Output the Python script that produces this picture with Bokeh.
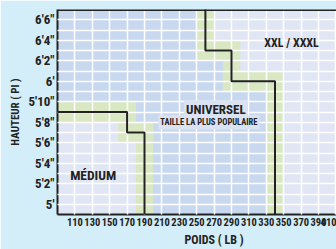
from bokeh.plotting import figure
from bokeh.models import Range1d, Label, Span, Title
from bokeh.embed import file_html
from bokeh.resources import INLINE

# ---------------- data ----------------
weight_ticks = [110, 130, 150, 170, 190, 210, 230, 250, 270, 290, 310, 330, 350, 370, 390, 410]
height_ticks = [60, 62, 64, 66, 68, 70, 72, 74, 76, 78]
height_labels = ["5'", "5'2\"", "5'4\"", "5'6\"", "5'8\"", "5'10\"", "6'", "6'2\"", "6'4\"", "6'6\""]
height_grid = [60, 61, 62, 63, 64, 65, 66, 67, 68, 69, 70, 71, 72, 73, 74, 75, 76, 77, 78]

# size boundaries (weight lb, height inches)
medium_w = [90, 170, 170, 190, 190]
medium_h = [69, 69, 67, 67, 59]
xxl_w = [260, 260, 290, 290, 340, 340]
xxl_h = [79, 75, 75, 72, 72, 59]

region_labels = ["MÉDIUM", "UNIVERSEL", "TAILLE LA PLUS POPULAIRE", "XXL / XXXL"]
x_title = "POIDS ( LB )"
y_title = "HAUTEUR ( PI )"

X0, X1 = 90, 410.7
Y0, Y1 = 59, 79

FONT = "Roboto Condensed, Roboto, sans-serif"
BG = "#d3edf9"
BLUE = "#c8d8ef"
LAV = "#e0e6f4"
GREEN = "#d9e8c3"
INK = "#222222"

p = figure(width=336, height=249, output_backend="svg", toolbar_location=None,
           x_range=Range1d(X0, X1), y_range=Range1d(Y0, Y1),
           min_border_left=57, min_border_right=0, min_border_top=9, min_border_bottom=29)
p.background_fill_color = BLUE
p.border_fill_color = BG
p.outline_line_color = None

# regions
p.patch(medium_w + [X0], medium_h + [Y0], fill_color=LAV, line_color=None)
p.patch(xxl_w + [450, 450], xxl_h + [Y0, Y1], fill_color=LAV, line_color=None)

# overlap bands around boundaries
def bands(ws, hs, dw=10, dh=1):
    L, R, B, T = [], [], [], []
    for i in range(len(ws) - 1):
        a, b = sorted((ws[i], ws[i + 1]))
        c, d = sorted((hs[i], hs[i + 1]))
        L.append(a - dw); R.append(b + dw); B.append(c - dh); T.append(d + dh)
    return L, R, B, T

for ws, hs in ((medium_w, medium_h), (xxl_w, xxl_h)):
    L, R, B, T = bands(ws, hs)
    p.quad(left=L, right=R, bottom=B, top=T, fill_color=GREEN, line_color=None)

# grid
p.xgrid.ticker = weight_ticks
p.ygrid.ticker = height_grid
p.grid.grid_line_color = "white"
p.grid.grid_line_width = 1.5
p.grid.level = "guide"

# boundary lines
r1 = p.line(medium_w, medium_h, line_color=INK, line_width=2)
r2 = p.line(xxl_w, xxl_h, line_color=INK, line_width=2)
r1.level = "annotation"
r2.level = "annotation"

p.add_layout(Span(location=Y1, dimension="width", line_color=INK, line_width=3))

# axes
for ax in (p.xaxis, p.yaxis):
    ax.major_tick_line_color = None
    ax.minor_tick_line_color = None
    ax.axis_line_color = INK
    ax.axis_line_width = 2
    ax.major_label_text_font = FONT
    ax.major_label_text_font_style = "bold"
    ax.major_label_text_color = INK
    ax.major_tick_out = 0
    ax.major_tick_in = 0

p.xaxis.ticker = weight_ticks
p.xaxis.major_label_text_font_size = "10.5px"
p.xaxis.major_label_standoff = 3
p.yaxis.ticker = height_ticks
p.yaxis.major_label_overrides = {t: s for t, s in zip(height_ticks, height_labels)}
p.yaxis.major_label_text_font_size = "13px"
p.yaxis.major_label_standoff = 3
p.yaxis.axis_label = y_title
p.yaxis.axis_label_text_font = FONT
p.yaxis.axis_label_text_font_style = "bold"
p.yaxis.axis_label_text_font_size = "11px"
p.yaxis.axis_label_text_color = INK
p.yaxis.axis_label_standoff = 4

p.add_layout(Title(text=x_title, align="left", offset=127, standoff=5,
                   text_font=FONT, text_font_style="bold", text_font_size="12px",
                   text_color=INK), "below")

def lab(x, y, text, size, bg=None):
    kw = dict(x=x, y=y, text=text, text_font=FONT, text_font_size=size,
              text_font_style="bold", text_color=INK, text_align="center",
              text_baseline="middle")
    if bg:
        kw.update(background_fill_color=bg, padding=2)
    p.add_layout(Label(**kw))

lab(131, 62.9, region_labels[0], "13.5px")
lab(272, 69.2, region_labels[1], "13px", bg="#dbe3f3")
lab(264, 68.0, region_labels[2], "8.5px", bg="#dbe3f3")
lab(359, 75.75, region_labels[3], "12px")

open("out.html", "w").write(file_html(p, INLINE))
